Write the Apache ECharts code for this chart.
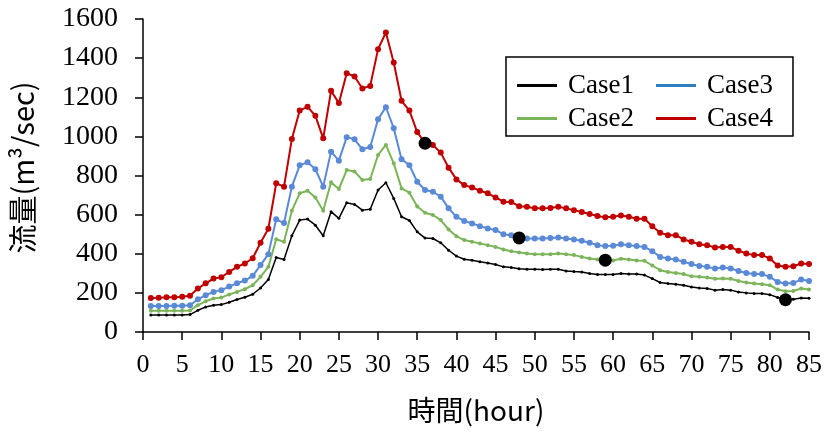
<!DOCTYPE html>
<html>
<head>
<meta charset="utf-8">
<script src="https://cdn.jsdelivr.net/npm/echarts@6/dist/echarts.min.js"></script>
<style>
  html, body { margin: 0; padding: 0; background: #fff; }
  #chart { width: 826px; height: 434px; }
</style>
</head>
<body>
<div id="chart"></div>
<script>
// hours 1..85
var hours = [];
for (var h = 1; h <= 85; h++) hours.push(h);

var case1 = [87, 87, 87, 87, 87, 89, 111, 128, 137, 140, 152, 166, 178, 193, 225, 268, 381, 371, 492, 572,
  577, 546, 492, 615, 581, 661, 652, 623, 627, 726, 763, 683, 589, 570, 512, 480, 478, 456, 418, 388,
  372, 367, 359, 353, 345, 333, 330, 323, 321, 321, 320, 321, 321, 312, 309, 307, 299, 294, 294, 294,
  299, 296, 296, 291, 273, 253, 248, 244, 239, 230, 225, 222, 214, 217, 214, 205, 200, 197, 197, 191,
  176, 165, 167, 174, 172];
var case2 = [108, 108, 108, 108, 108, 110, 137, 157, 171, 176, 192, 205, 219, 239, 282, 333, 474, 461, 620, 709,
  722, 688, 620, 765, 731, 828, 820, 777, 782, 905, 956, 862, 734, 712, 642, 610, 598, 572, 524, 490,
  470, 461, 453, 444, 435, 422, 413, 407, 401, 398, 398, 398, 401, 398, 393, 384, 376, 371, 367, 366,
  374, 371, 366, 364, 340, 316, 307, 302, 296, 285, 282, 279, 272, 274, 272, 261, 253, 248, 244, 239,
  217, 208, 210, 222, 217];
var case3 = [133, 133, 133, 134, 134, 137, 167, 188, 205, 214, 232, 249, 263, 287, 342, 398, 576, 557, 743, 852,
  868, 832, 743, 922, 876, 996, 985, 934, 946, 1088, 1149, 1042, 883, 853, 768, 726, 717, 692, 632, 589,
  568, 555, 541, 529, 521, 500, 495, 481, 478, 478, 478, 481, 483, 478, 473, 466, 456, 444, 439, 441,
  449, 444, 439, 435, 413, 384, 376, 371, 359, 347, 338, 333, 325, 330, 325, 312, 302, 296, 296, 282,
  256, 248, 251, 268, 261];
var case4 = [174, 175, 177, 177, 180, 185, 222, 249, 273, 280, 307, 333, 350, 377, 456, 528, 760, 743, 987, 1132,
  1152, 1105, 990, 1233, 1170, 1323, 1306, 1245, 1258, 1446, 1531, 1378, 1182, 1132, 1022, 965, 956, 917, 840, 780,
  751, 739, 722, 709, 688, 666, 664, 643, 640, 632, 632, 634, 640, 632, 623, 613, 603, 593, 586, 589,
  596, 589, 579, 579, 541, 507, 495, 495, 473, 461, 449, 444, 432, 435, 435, 415, 401, 393, 393, 376,
  340, 333, 336, 350, 347];

// highlighted points (hour, which case)
var markHours = [36, 48, 59, 82];
var markCases = [4, 3, 2, 1];

var names = ['Case1', 'Case2', 'Case3', 'Case4'];
var colors = ['#000000', '#7cb45a', '#5a8ad6', '#c00000'];
var allCases = [case1, case2, case3, case4];

function pairs(arr) {
  return hours.map(function (h, i) { return [h, arr[i]]; });
}

var markData = markHours.map(function (h, i) {
  return [h, allCases[markCases[i] - 1][h - 1]];
});

var serif = 'Liberation Serif, Times New Roman, serif';
var sans = 'Noto Sans CJK JP, sans-serif';

var lineStyles = [
  { width: 1.5, size: 3 },
  { width: 2, size: 4 },
  { width: 2, size: 6 },
  { width: 2, size: 6 }
];

var series = allCases.map(function (arr, i) {
  return {
    name: names[i],
    type: 'line',
    data: pairs(arr),
    symbol: 'circle',
    symbolSize: lineStyles[i].size,
    showSymbol: true,
    itemStyle: { color: colors[i] },
    lineStyle: { color: colors[i], width: lineStyles[i].width },
    z: 2 + i,
    animation: false
  };
});
series.push({
  name: 'mark',
  type: 'scatter',
  data: markData,
  symbolSize: 13,
  itemStyle: { color: '#000', opacity: 1 },
  z: 10,
  animation: false
});

var legendBase = {
  orient: 'vertical',
  top: 57,
  icon: 'rect',
  itemWidth: 40,
  itemHeight: 3,
  itemGap: 6,
  textStyle: {
    fontFamily: serif,
    fontSize: 27,
    color: '#000',
    padding: [0, 0, 0, 6]
  }
};

var myChart = echarts.init(document.getElementById('chart'));
myChart.setOption({
  animation: false,
  grid: { left: 139, right: 17, top: 19, bottom: 102 },
  legend: [
    // left column carries the frame for the whole legend
    Object.assign({}, legendBase, {
      data: ['Case1', 'Case2'],
      left: 506,
      padding: [15, 159, 4, 11],
      borderColor: '#000',
      borderWidth: 1.5
    }),
    Object.assign({}, legendBase, {
      data: [{ name: 'Case3', itemStyle: { color: '#2e80c4' } }, 'Case4'],
      left: 656,
      padding: [15, 0, 4, 0]
    })
  ],
  xAxis: {
    type: 'value',
    min: 0,
    max: 85,
    interval: 5,
    name: '時間(hour)',
    nameLocation: 'middle',
    nameGap: 64,
    nameTextStyle: { fontFamily: sans, fontSize: 28, color: '#000' },
    axisLine: { show: true, lineStyle: { color: '#000', width: 1.5 } },
    axisTick: { show: true, inside: false, length: 8, lineStyle: { color: '#000', width: 1.5 } },
    axisLabel: { fontFamily: serif, fontSize: 26, color: '#000', margin: 20 },
    splitLine: { show: false }
  },
  yAxis: {
    type: 'value',
    min: 0,
    max: 1600,
    interval: 200,
    name: '流量(m³/sec)',
    nameLocation: 'middle',
    nameRotate: 90,
    nameGap: 106,
    nameTextStyle: { fontFamily: sans, fontSize: 29, color: '#000', padding: [0, 0, 0, 16] },
    axisLine: { show: true, lineStyle: { color: '#000', width: 1.5 } },
    axisTick: { show: true, inside: false, length: 8, lineStyle: { color: '#000', width: 1.5 } },
    axisLabel: {
      fontFamily: serif, fontSize: 28, color: '#000', margin: 25,
      formatter: function (v) { return String(v); }
    },
    splitLine: { show: false }
  },
  series: series
});
window.addEventListener('resize', function () {
  myChart.resize();
});
</script>
</body>
</html>
